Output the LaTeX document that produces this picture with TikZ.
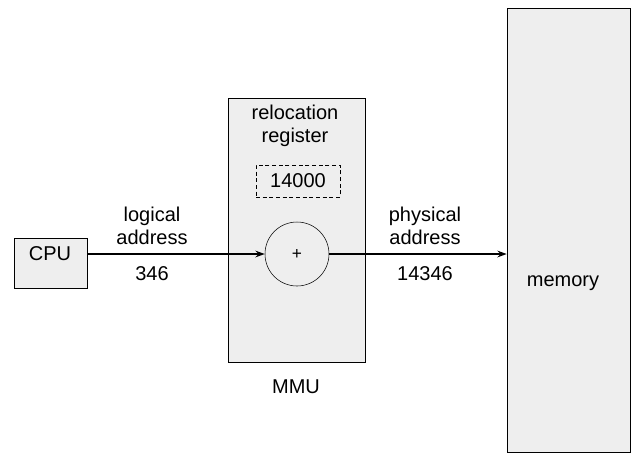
\documentclass[tikz,border=0pt]{standalone}
\usepackage{fontspec}
\setmainfont{Liberation Sans}
\usetikzlibrary{arrows.meta}
\definecolor{stipple}{RGB}{238,238,238}

\begin{document}
\begin{tikzpicture}[x=0.75pt,y=-0.75pt,
  unit/.style={draw,fill=stipple,inner sep=0pt},
  txt/.style={font=\fontsize{15}{17}\selectfont,align=center,inner sep=0pt},
  wire/.style={-{Stealth[length=7pt,width=5pt]},line width=1.2pt},
]
  \useasboundingbox (0,0) rectangle (632,455);
  % boxes
  \node[unit,minimum width=54.75pt,minimum height=37.5pt] (cpu) at (50.5,263) {};
  \node[unit,minimum width=102.75pt,minimum height=198pt] (mmu) at (296.5,230) {};
  \node[unit,minimum width=92.25pt,minimum height=333pt] (memory) at (568.5,230) {};
  \node[draw,densely dashed,fill=stipple,minimum width=63pt,minimum height=24pt,
        inner sep=0pt] (reg) at (298,181) {};
  \node[draw,circle,minimum size=48pt,inner sep=0pt] (adder) at (297,254) {};

  % texts
  \node[txt] (cputxt) at (50,254) {CPU};
  \node[txt] (regname) at (295,126) {relocation\\register};
  \node[txt] (regval) at (reg) {14000};
  \node[txt] (plus) at (adder) {\fontsize{13}{13}\selectfont +};
  \node[txt] (mmutxt) at (296,387) {MMU};
  \node[txt] (memtxt) at (563,283) {memory};
  \node[txt] (logical) at (152,226) {logical\\address};
  \node[txt] (lognum) at (152,274) {346};
  \node[txt] (physical) at (425,226) {physical\\address};
  \node[txt] (physnum) at (425,274) {14346};

  % connectors
  \draw[wire,line width=1.8pt] (cpu.east |- adder) -- (adder.west);
  \draw[wire] (adder.east) -- (adder -| memory.west);
\end{tikzpicture}
\end{document}
